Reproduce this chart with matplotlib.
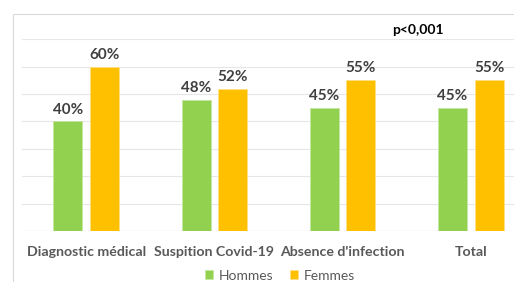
import matplotlib
matplotlib.use("Agg")
import matplotlib.pyplot as plt
from matplotlib.patches import Rectangle
import numpy as np

categories = ["Diagnostic médical", "Suspition Covid-19", "Absence d'infection", "Total"]
hommes = [40, 48, 45, 45]
femmes = [60, 52, 55, 55]
series_names = ["Hommes", "Femmes"]
colors = ["#92D050", "#FFC000"]
annotation = "p<0,001"

plt.rcParams['font.family'] = ['Lato', 'DejaVu Sans']

W, H = 514, 282
fig = plt.figure(figsize=(W/100, H/100), dpi=100)
fig.patch.set_facecolor("white")

# outer border
fig.patches.append(Rectangle((13/W, -0.1), 1.2, (H-14)/H + 0.1, transform=fig.transFigure,
                             fill=False, edgecolor="#D9D9D9", linewidth=0.8))

ax = fig.add_axes([22/W, 51/H, 513/W, (231-39.3)/H])
x = np.arange(len(categories))
bw = 0.226
off = 0.143
ax.bar(x - off, hommes, bw, color=colors[0], edgecolor="#C5E8A0", linewidth=0.5, label=series_names[0], zorder=3)
ax.bar(x + off, femmes, bw, color=colors[1], edgecolor="#FFE08A", linewidth=0.5, label=series_names[1], zorder=3)

for xi, v in zip(x - off, hommes):
    ax.text(xi, v + 1.8, f"{v}%", ha="center", va="bottom", fontsize=11, fontweight="bold", color="#404040")
for xi, v in zip(x + off, femmes):
    ax.text(xi, v + 1.8, f"{v}%", ha="center", va="bottom", fontsize=11, fontweight="bold", color="#404040")

ax.set_xlim(-0.5, len(categories) - 0.5)
ax.set_ylim(0, 70)
ax.set_yticks(np.arange(0, 71, 10))
ax.yaxis.grid(True, color="#E6E6E6", linewidth=0.8, zorder=0)
ax.tick_params(axis="y", left=False, labelleft=False)
ax.tick_params(axis="x", bottom=False, pad=7.5)
ax.set_xticks(x)
ax.set_xticklabels(categories, fontsize=10.2, fontweight="bold", color="#595959")
for s in ax.spines.values():
    s.set_visible(False)
ax.axhline(0, color="#D9D9D9", linewidth=0.8, zorder=2)

fig.text(418/W, 1 - 30/H, annotation, ha="center", va="center", fontsize=10, fontweight="bold", color="black")

leg = ax.legend(loc="center", bbox_to_anchor=(280/W, 1 - 275.5/H), bbox_transform=fig.transFigure,
                ncol=2, frameon=False, fontsize=10, handlelength=0.6, handleheight=0.6,
                handletextpad=0.4, columnspacing=1.2, borderaxespad=0)
for t in leg.get_texts():
    t.set_color("#595959")

fig.savefig("out.png", dpi=100)
